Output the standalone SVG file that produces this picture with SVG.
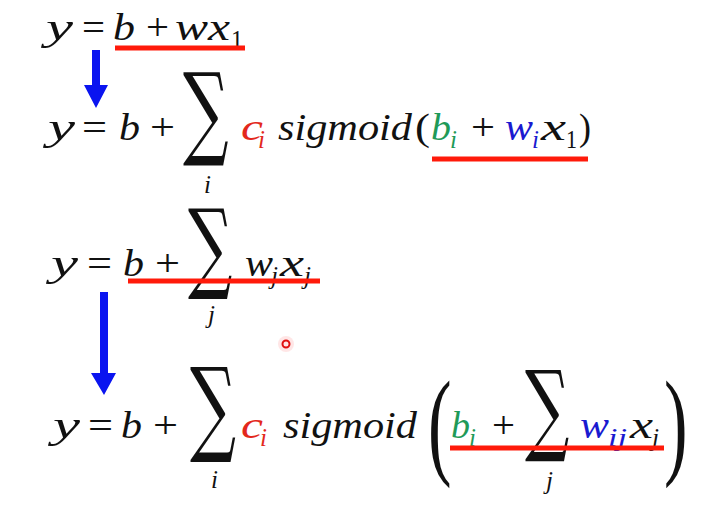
<svg xmlns="http://www.w3.org/2000/svg" width="728" height="515" viewBox="0 0 728 515">
<defs>
<style>
.m{font-family:"Liberation Serif","DejaVu Serif",serif;font-style:italic;font-size:38px;fill:#111}
.r{font-family:"Liberation Serif","DejaVu Serif",serif;font-style:normal;font-size:38px;fill:#111}
.s{font-family:"Liberation Serif","DejaVu Serif",serif;font-style:italic;font-size:25px;fill:#111}
.sn{font-family:"Liberation Serif","DejaVu Serif",serif;font-style:normal;font-size:25px;fill:#111}
.sig{font-family:"DejaVu Serif",serif;font-style:normal;font-size:62px;fill:#111}
.par{font-family:"Liberation Serif","DejaVu Serif",serif;font-style:normal;font-size:118px;fill:#111}
.red{fill:#e3281c}.grn{fill:#1f9a58}.blu{fill:#1a1ad0}
.ul{stroke:#ff1a0a;stroke-width:5;fill:none}
.arr{fill:#0a14f0}
</style>
</defs>
<rect width="728" height="515" fill="#fff"/>
<g id="eq1">
<text class="m" x="46" y="40" textLength="27" lengthAdjust="spacingAndGlyphs">y</text>
<text class="r" x="82" y="40" textLength="23" lengthAdjust="spacingAndGlyphs">=</text>
<text class="m" x="113" y="40" textLength="22" lengthAdjust="spacingAndGlyphs">b</text>
<text class="r" x="146" y="40" textLength="23" lengthAdjust="spacingAndGlyphs">+</text>
<text class="m" x="175" y="40" textLength="55" lengthAdjust="spacingAndGlyphs">wx</text>
<text class="sn" x="231" y="48" textLength="12" lengthAdjust="spacingAndGlyphs">1</text>
</g>
<g id="eq2">
<text class="m" x="48" y="140" textLength="27" lengthAdjust="spacingAndGlyphs">y</text>
<text class="r" x="82" y="140" textLength="25" lengthAdjust="spacingAndGlyphs">=</text>
<text class="m" x="119" y="140" textLength="21" lengthAdjust="spacingAndGlyphs">b</text>
<text class="r" x="150" y="140" textLength="25" lengthAdjust="spacingAndGlyphs">+</text>
<text class="sig" transform="translate(183,146) scale(1.03,1.65)">∑</text>
<text class="s" x="204" y="193">i</text>
<text class="m red" x="241" y="140" textLength="22" lengthAdjust="spacingAndGlyphs">c</text>
<text class="s red" x="258" y="148">i</text>
<text class="m" x="278" y="140" textLength="134" lengthAdjust="spacingAndGlyphs">sigmoid</text>
<text class="r" x="415" y="140" textLength="15" lengthAdjust="spacingAndGlyphs">(</text>
<text class="m grn" x="431" y="140" textLength="20" lengthAdjust="spacingAndGlyphs">b</text>
<text class="s grn" x="450" y="148">i</text>
<text class="r" x="471" y="140" textLength="24" lengthAdjust="spacingAndGlyphs">+</text>
<text class="m blu" x="505" y="140" textLength="28" lengthAdjust="spacingAndGlyphs">w</text>
<text class="s blu" x="532" y="148">i</text>
<text class="m" x="541" y="140" textLength="25" lengthAdjust="spacingAndGlyphs">x</text>
<text class="sn" x="566" y="148" textLength="11" lengthAdjust="spacingAndGlyphs">1</text>
<text class="r" x="579" y="140" textLength="12" lengthAdjust="spacingAndGlyphs">)</text>
</g>
<g id="eq3">
<text class="m" x="51" y="276" textLength="27" lengthAdjust="spacingAndGlyphs">y</text>
<text class="r" x="87" y="276" textLength="25" lengthAdjust="spacingAndGlyphs">=</text>
<text class="m" x="123" y="276" textLength="21" lengthAdjust="spacingAndGlyphs">b</text>
<text class="r" x="155" y="276" textLength="25" lengthAdjust="spacingAndGlyphs">+</text>
<text class="sig" transform="translate(188,280) scale(1.0,1.6)">∑</text>
<text class="s" x="208" y="323">j</text>
<text class="m" x="245" y="276" textLength="28" lengthAdjust="spacingAndGlyphs">w</text>
<text class="s" x="271" y="284">j</text>
<text class="m" x="280" y="276" textLength="24" lengthAdjust="spacingAndGlyphs">x</text>
<text class="s" x="304" y="284">j</text>
</g>
<g id="eq4">
<text class="m" x="53" y="438" textLength="27" lengthAdjust="spacingAndGlyphs">y</text>
<text class="r" x="88" y="438" textLength="25" lengthAdjust="spacingAndGlyphs">=</text>
<text class="m" x="121" y="438" textLength="21" lengthAdjust="spacingAndGlyphs">b</text>
<text class="r" x="153" y="438" textLength="25" lengthAdjust="spacingAndGlyphs">+</text>
<text class="sig" transform="translate(190,442) scale(1.04,1.68)">∑</text>
<text class="s" x="211" y="488">i</text>
<text class="m red" x="241" y="438" textLength="22" lengthAdjust="spacingAndGlyphs">c</text>
<text class="s red" x="260" y="446">i</text>
<text class="m" x="283" y="438" textLength="134" lengthAdjust="spacingAndGlyphs">sigmoid</text>
<text class="par" transform="translate(428,463) scale(0.6,1)">(</text>
<text class="m grn" x="451" y="438" textLength="19" lengthAdjust="spacingAndGlyphs">b</text>
<text class="s grn" x="469" y="446">i</text>
<text class="r" x="492" y="438" textLength="23" lengthAdjust="spacingAndGlyphs">+</text>
<text class="sig" transform="translate(525,442) scale(1.0,1.62)">∑</text>
<text class="s" x="546" y="489">j</text>
<text class="m blu" x="580" y="438" textLength="29" lengthAdjust="spacingAndGlyphs">w</text>
<text class="s blu" x="608" y="446" textLength="19" lengthAdjust="spacingAndGlyphs">ij</text>
<text class="m" x="630" y="438" textLength="23" lengthAdjust="spacingAndGlyphs">x</text>
<text class="s" x="652" y="446">j</text>
<text class="par" transform="translate(664,463) scale(0.6,1)">)</text>
</g>
<g id="connectors">
<path class="arr" d="M92,50 H100 V85 H108 L96,108 L84,85 H92 Z"/>
<path class="arr" d="M100,292 H108 V373 H116 L104,395 L91,373 H100 Z"/>
<line class="ul" x1="115" y1="48" x2="245" y2="48"/>
<line class="ul" x1="432" y1="159" x2="588" y2="159"/>
<line class="ul" x1="128" y1="281" x2="320" y2="281"/>
<line class="ul" x1="450" y1="448" x2="664" y2="448"/>
</g>
<g id="pointer">
<circle cx="286" cy="344" r="8" fill="#ffd6d6" opacity="0.6"/>
<circle cx="286" cy="344" r="3.5" fill="none" stroke="#e01010" stroke-width="2"/>
</g>
</svg>
